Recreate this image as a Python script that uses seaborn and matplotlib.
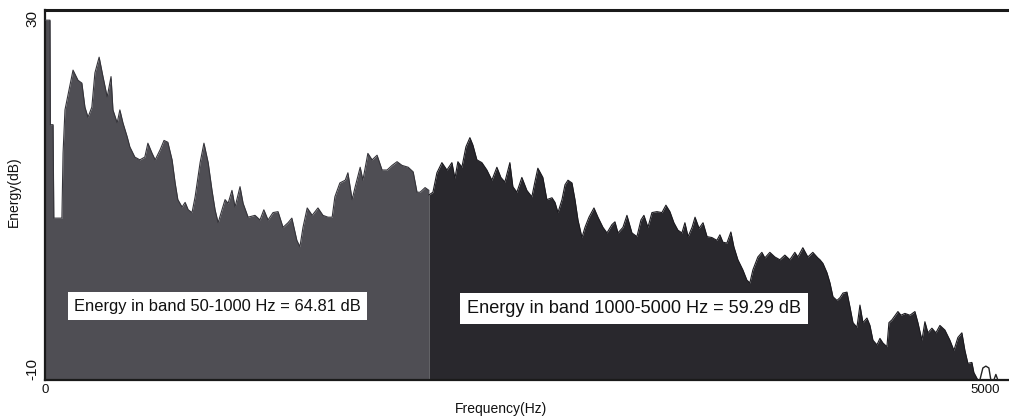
import numpy as np
import matplotlib
matplotlib.use("Agg")
import matplotlib.pyplot as plt
import seaborn as sns

# Spectrum envelope, 0-1000 Hz band (frequency in Hz, energy in dB)
low_freq = [0, 13, 14, 21, 23, 44, 47, 52, 73, 86, 96, 104, 112, 122, 130, 141, 151, 162,
            172, 177, 188, 195, 203, 214, 221, 234, 247, 260, 268, 279, 287, 300, 310, 320,
            331, 339, 346, 357, 365, 373, 383, 391, 404, 414, 425, 435, 443, 451, 461, 469,
            477, 487, 495, 508, 516, 529, 547, 560, 570, 581, 594, 607, 620, 633, 643, 656,
            664, 672, 683, 696, 711, 724, 737, 748, 755, 768, 782, 789, 800, 808, 821, 828,
            841, 852, 865, 878, 891, 904, 917, 930, 946, 959, 969, 977, 990, 1000]
low_db = [28.9, 28.9, 17.6, 17.6, 7.5, 7.5, 14.5, 19.2, 23.5, 22.4, 22.1, 19.5, 18.4, 19.5,
          23.2, 24.9, 22.8, 20.6, 22.8, 19.2, 17.8, 19.2, 17.8, 16.3, 15.2, 14.1, 13.8, 14.1,
          15.6, 14.5, 13.8, 14.9, 15.9, 15.7, 13.8, 11.3, 9.5, 8.7, 9.2, 8.4, 8.1, 9.8, 13.5,
          15.6, 13.5, 10.5, 8.4, 7.0, 8.4, 9.5, 9.1, 10.5, 8.7, 10.9, 9.1, 7.6, 7.8, 7.3, 8.4,
          7.3, 8.1, 8.2, 6.5, 7.0, 7.5, 5.1, 4.4, 6.5, 8.6, 7.8, 8.6, 7.8, 7.6, 7.6, 9.8, 11.3,
          11.6, 12.4, 9.5, 10.9, 13.0, 11.6, 14.5, 13.8, 14.3, 12.7, 12.7, 13.2, 13.6, 13.2,
          13.0, 12.5, 10.3, 10.3, 10.8, 10.5]

# Spectrum envelope, 1000-5000 Hz band
high_freq = [1000, 1028, 1056, 1091, 1126, 1161, 1182, 1203, 1231, 1259, 1287, 1308, 1336,
             1371, 1406, 1441, 1476, 1504, 1532, 1567, 1588, 1616, 1651, 1686, 1721, 1742,
             1763, 1798, 1826, 1862, 1883, 1904, 1932, 1953, 1974, 2002, 2023, 2044, 2072,
             2093, 2121, 2156, 2184, 2219, 2247, 2282, 2303, 2324, 2359, 2387, 2422, 2457,
             2485, 2506, 2534, 2562, 2597, 2632, 2660, 2688, 2716, 2744, 2772, 2793, 2815,
             2843, 2864, 2892, 2920, 2948, 2982, 3017, 3038, 3059, 3087, 3115, 3136, 3164,
             3199, 3227, 3248, 3269, 3304, 3332, 3353, 3388, 3423, 3458, 3493, 3528, 3563,
             3584, 3619, 3654, 3689, 3724, 3739, 3760, 3788, 3809, 3830, 3858, 3879, 3900,
             3928, 3949, 3970, 3998, 4019, 4040, 4068, 4089, 4110, 4138, 4159, 4180, 4208,
             4222, 4243, 4285, 4306, 4334, 4369, 4404, 4425, 4453, 4474, 4495, 4523, 4551,
             4579, 4614, 4649, 4677, 4705, 4733, 4754, 4775, 4803, 4817, 4845]
high_db = [10.0, 10.3, 12.4, 13.5, 12.7, 13.5, 11.8, 13.6, 13.0, 15.2, 16.2, 15.4, 13.8,
           13.5, 12.7, 11.6, 13.0, 11.9, 11.4, 13.5, 10.9, 10.3, 11.9, 10.5, 9.8, 11.4, 12.9,
           11.9, 9.5, 9.7, 9.2, 8.1, 9.5, 11.1, 11.6, 11.3, 9.5, 7.3, 5.4, 6.5, 7.6, 8.6, 7.6,
           6.5, 5.9, 6.8, 7.1, 5.9, 6.5, 7.8, 5.9, 5.5, 7.3, 7.8, 6.5, 8.1, 8.2, 8.1, 8.9, 8.2,
           7.0, 6.2, 5.9, 7.0, 5.5, 6.5, 7.6, 6.4, 7.0, 5.5, 5.4, 5.1, 5.7, 4.9, 4.8, 6.0, 4.4,
           3.0, 1.9, 0.8, 0.5, 1.9, 3.3, 3.8, 3.2, 3.8, 3.3, 3.0, 3.5, 3.0, 3.8, 3.3, 4.3, 3.3,
           3.8, 3.2, 3.0, 2.6, 1.6, 0.5, -1.0, -1.4, -1.1, -0.6, -0.5, -2.1, -3.8, -4.3, -1.9,
           -3.8, -3.3, -4.1, -5.7, -6.2, -5.5, -6.0, -6.4, -3.8, -3.5, -2.6, -3.0, -2.8, -3.0,
           -2.6, -3.8, -5.7, -3.7, -4.9, -4.4, -4.9, -4.1, -4.6, -5.7, -6.8, -5.4, -4.9, -6.8,
           -8.2, -8.1, -9.2, -10.0]

# Faint residue above 4850 Hz, drawn as an outline only
tail_freq = [4859, 4880, 4901, 4922, 4936, 4957, 4971, 4985]
tail_db = [-10.0, -8.7, -8.5, -8.7, -10.0, -10.0, -9.4, -10.0]

band_labels = ["Energy in band 50-1000 Hz = 64.81 dB",
               "Energy in band 1000-5000 Hz = 59.29 dB"]

Y_MIN, Y_MAX = -10, 30
SPLIT_HZ, TOP_HZ = 1000, 5000
SPLIT_POS = 0.402  # share of the axis given to the 0-1000 Hz band


def freq_to_pos(f):
    f = np.asarray(f, dtype=float)
    return np.where(f <= SPLIT_HZ, f * SPLIT_POS / SPLIT_HZ,
                    SPLIT_POS + (f - SPLIT_HZ) * (1 - SPLIT_POS) / (TOP_HZ - SPLIT_HZ))


def pos_to_freq(u):
    u = np.asarray(u, dtype=float)
    return np.where(u <= SPLIT_POS, u * SPLIT_HZ / SPLIT_POS,
                    SPLIT_HZ + (u - SPLIT_POS) * (TOP_HZ - SPLIT_HZ) / (1 - SPLIT_POS))


sns.set_style("white")
plt.rcParams["font.family"] = ["Liberation Sans", "DejaVu Sans"]

fig = plt.figure(figsize=(10.09, 4.16), dpi=100)
ax = fig.add_axes([45 / 1009, 36 / 416, 1 - 45 / 1009, 370 / 416])
ax.set_xscale("function", functions=(freq_to_pos, pos_to_freq))

low_color = "#4f4e54"
high_color = "#29282d"

ax.fill_between(low_freq, Y_MIN, low_db, color=low_color, linewidth=0, zorder=2)
ax.fill_between(high_freq, Y_MIN, high_db, color=high_color, linewidth=0, zorder=2)
sns.lineplot(x=low_freq, y=low_db, ax=ax, color="#35343a", linewidth=0.8,
             sort=False, zorder=3)
sns.lineplot(x=high_freq, y=high_db, ax=ax, color="#1c1b20", linewidth=0.8,
             sort=False, zorder=3)
sns.lineplot(x=tail_freq, y=tail_db, ax=ax, color="#222222", linewidth=1.0,
             sort=False, zorder=3)

ax.set_xlim(0, 5063)
ax.set_ylim(Y_MIN, Y_MAX)

# Band energy captions in white boxes
box = dict(boxstyle="square,pad=0.38", facecolor="white", edgecolor="none")
ax.text(75, -2.0, band_labels[0], fontsize=11.9, color="#111111", ha="left",
        va="center", bbox=box, zorder=4)
ax.text(1265, -2.3, band_labels[1], fontsize=13.1, color="#111111", ha="left",
        va="center", bbox=box, zorder=4)

# Axes frame
for side in ("left", "bottom", "top"):
    ax.spines[side].set_color("#1a1a1a")
    ax.spines[side].set_linewidth(1.6)
ax.spines["top"].set_linewidth(2.2)
ax.spines["right"].set_visible(False)

ax.set_xticks([0, 5000])
xlabels = ax.set_xticklabels(["0", "5000"], fontsize=9.5)
xlabels[1].set_ha("right")
ax.set_yticks([Y_MIN, Y_MAX])
ylabels = ax.set_yticklabels([str(Y_MIN), str(Y_MAX)], fontsize=11, rotation=90)
ylabels[0].set_va("bottom")
ylabels[1].set_va("top")
ax.tick_params(axis="both", length=0, colors="#111111")
ax.tick_params(axis="x", pad=3)
ax.tick_params(axis="y", pad=4)
ax.minorticks_off()

ax.set_xlabel("Frequency(Hz)", fontsize=10, color="#111111", labelpad=6)
ax.xaxis.set_label_coords((501 - 45) / 964, -0.06)
ax.set_ylabel("Energy(dB)", fontsize=10, color="#111111")
ax.yaxis.set_label_coords(-0.025, 0.51)

fig.savefig("out.png", dpi=100)
